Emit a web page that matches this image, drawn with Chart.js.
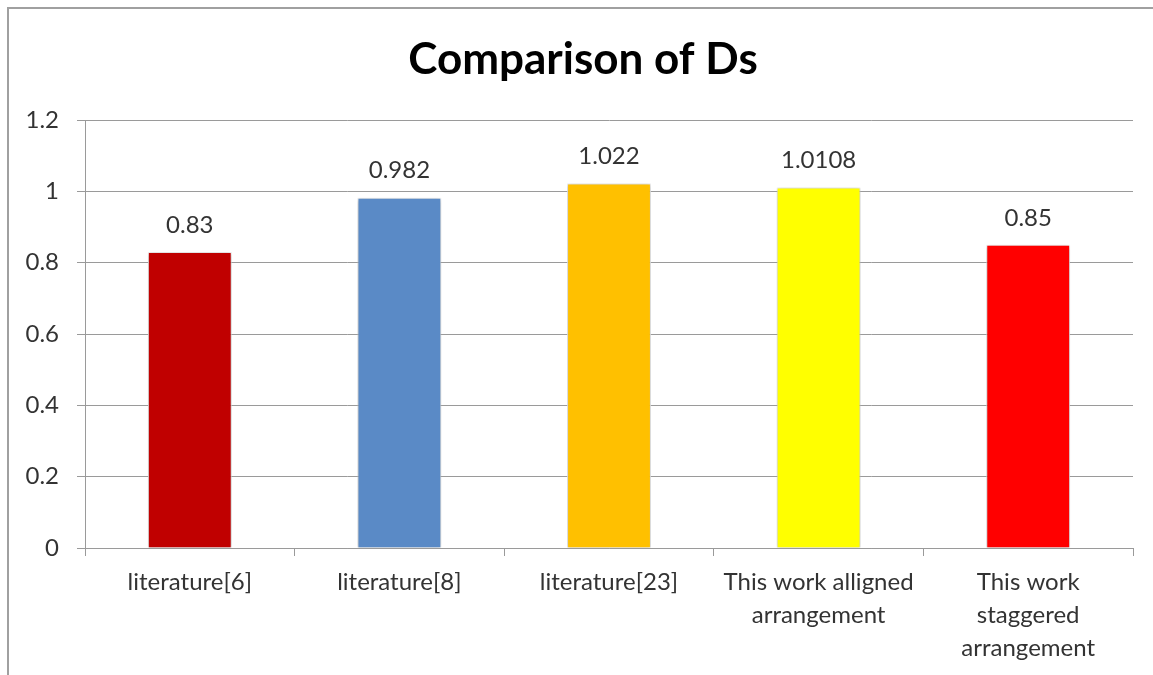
<!DOCTYPE html>
<html>
<head>
<meta charset="utf-8">
<script src="https://cdn.jsdelivr.net/npm/chart.js@4.4.1/dist/chart.umd.min.js"></script>
<style>
  html, body { margin: 0; padding: 0; background: #fff; }
  #wrap { width: 1153px; height: 675px; position: relative; }
</style>
</head>
<body>
<div id="wrap"><canvas id="dsChart" width="1153" height="675"></canvas></div>
<script>
const categories = [
  'literature[6]',
  'literature[8]',
  'literature[23]',
  ['This work alligned', 'arrangement'],
  ['This work', 'staggered', 'arrangement']
];
const dsValues = [0.83, 0.982, 1.022, 1.0108, 0.85];
const valueLabels = ['0.83', '0.982', '1.022', '1.0108', '0.85'];
const barColors = ['#C00000', '#5A8AC6', '#FFC000', '#FFFF00', '#FF0000'];
const chartTitle = 'Comparison of Ds';

const FONT = 'Lato, "Open Sans", "Liberation Sans", sans-serif';
const TEXT = '#333333';
const LINE = '#9a9a9a';

// frame lines along the left and top edges, plus the title
const framePlugin = {
  id: 'frame',
  beforeDraw(chart) {
    const ctx = chart.ctx;
    ctx.save();
    ctx.fillStyle = '#fff';
    ctx.fillRect(0, 0, chart.width, chart.height);
    ctx.strokeStyle = '#a0a0a0';
    ctx.lineWidth = 2;
    ctx.beginPath();
    ctx.moveTo(8, chart.height);
    ctx.lineTo(8, 8);
    ctx.lineTo(chart.width, 8);
    ctx.stroke();

    ctx.font = 'bold 44px ' + FONT;
    ctx.fillStyle = '#000';
    ctx.textAlign = 'center';
    ctx.textBaseline = 'middle';
    ctx.fillText(chartTitle, 583, 60);
    ctx.restore();
  }
};

// soft shadow behind the bars
const shadowPlugin = {
  id: 'barShadow',
  beforeDatasetsDraw(chart) {
    const ctx = chart.ctx;
    ctx.save();
    ctx.shadowColor = 'rgba(0,0,0,0.28)';
    ctx.shadowBlur = 4;
    ctx.shadowOffsetX = 0;
    ctx.shadowOffsetY = 1;
  },
  afterDatasetsDraw(chart) {
    chart.ctx.restore();
  }
};

// value printed above each bar
const valueLabelPlugin = {
  id: 'valueLabels',
  afterDraw(chart) {
    const ctx = chart.ctx;
    const meta = chart.getDatasetMeta(0);
    ctx.save();
    ctx.font = '24px ' + FONT;
    ctx.fillStyle = TEXT;
    ctx.textAlign = 'center';
    ctx.textBaseline = 'middle';
    meta.data.forEach((bar, i) => {
      ctx.fillText(valueLabels[i], bar.x, bar.y - 27);
    });
    ctx.restore();
  }
};

new Chart(document.getElementById('dsChart').getContext('2d'), {
  type: 'bar',
  data: {
    labels: categories,
    datasets: [{
      label: 'Ds',
      data: dsValues,
      backgroundColor: barColors,
      borderColor: '#f4f4f4',
      borderWidth: 1,
      categoryPercentage: 1.0,
      barPercentage: 0.4
    }]
  },
  options: {
    responsive: false,
    animation: false,
    layout: { padding: { left: 10, right: 20, top: 120, bottom: 0 } },
    plugins: {
      legend: { display: false },
      tooltip: { enabled: false },
      title: { display: false }
    },
    scales: {
      x: {
        offset: true,
        grid: {
          offset: true,
          drawOnChartArea: false,
          drawTicks: true,
          tickLength: 8,
          color: LINE
        },
        border: { display: true, color: LINE },
        ticks: {
          color: TEXT,
          font: { family: FONT, size: 24, lineHeight: 1.375 },
          padding: 10,
          maxRotation: 0,
          autoSkip: false
        },
        afterFit(scale) { scale.height = 127; }
      },
      y: {
        min: 0,
        max: 1.2,
        ticks: {
          stepSize: 0.2,
          color: TEXT,
          font: { family: FONT, size: 24 },
          padding: 18,
          callback: v => Number(v.toFixed(1)).toString()
        },
        grid: {
          color: LINE,
          tickLength: 8,
          drawTicks: true
        },
        border: { display: true, color: LINE },
        afterFit(scale) { scale.width = 75; }
      }
    }
  },
  plugins: [framePlugin, shadowPlugin, valueLabelPlugin]
});
</script>
</body>
</html>
